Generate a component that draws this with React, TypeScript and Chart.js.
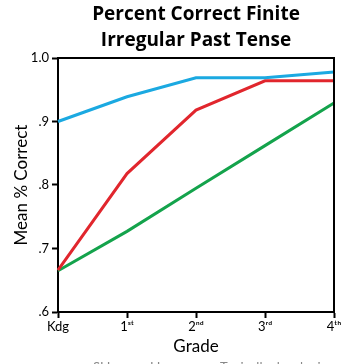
import React, { useEffect, useRef } from "react";
import { Chart, registerables } from "chart.js";

Chart.register(...registerables);

const grades = ["Kdg", "1ˢᵗ", "2ⁿᵈ", "3ʳᵈ", "4ᵗʰ"];
const blueSeries = [0.9, 0.939, 0.969, 0.969, 0.978];
const redSeries = [0.666, 0.818, 0.918, 0.964, 0.964];
const greenSeries = [0.665, 0.727, 0.795, 0.862, 0.929];
const seriesNames = ["Typically developing", "SLI", "LI"];
const titleLines = ["Percent Correct Finite", "Irregular Past Tense"];
const yTitle = "Mean % Correct";
const xTitle = "Grade";
const legendLabels = ["SLI", "LI", "Typically developing"];

const W = 356;
const H = 364;

const textPlugin = {
  id: "texts",
  afterDraw(chart: any) {
    const { ctx, chartArea } = chart;
    const cx = (chartArea.left + chartArea.right) / 2;
    ctx.save();
    ctx.strokeStyle = "#000";
    ctx.lineWidth = 2;
    ctx.beginPath();
    ctx.moveTo(chartArea.left, chartArea.top);
    ctx.lineTo(chartArea.right, chartArea.top);
    ctx.lineTo(chartArea.right, chartArea.bottom);
    ctx.stroke();
    ctx.fillStyle = "#000";
    ctx.textAlign = "center";
    ctx.textBaseline = "middle";
    ctx.font = "bold 19px 'Open Sans', sans-serif";
    ctx.fillText(titleLines[0], cx, 15);
    ctx.fillText(titleLines[1], cx, 41);
    ctx.font = "17px Lato, sans-serif";
    ctx.fillText(xTitle, cx, 347);
    ctx.save();
    ctx.translate(22, (chartArea.top + chartArea.bottom) / 2);
    ctx.rotate(-Math.PI / 2);
    ctx.fillText(yTitle, 0, 0);
    ctx.restore();
    ctx.font = "13px Lato, sans-serif";
    ctx.textAlign = "left";
    ctx.textBaseline = "top";
    ctx.fillStyle = "#888";
    ctx.fillText(legendLabels[0], 93, 361);
    ctx.fillText(legendLabels[1], 150, 361);
    ctx.fillText(legendLabels[2], 220, 361);
    ctx.restore();
  },
};

export default function App() {
  const ref = useRef<HTMLCanvasElement>(null);
  useEffect(() => {
    document.body.style.margin = "0";
    const canvas = ref.current!;
    const chart = new Chart(canvas, {
      type: "line",
      data: {
        labels: grades,
        datasets: [
          { label: seriesNames[0], data: blueSeries, borderColor: "#1BA9E1", borderWidth: 3, pointRadius: 0, fill: false, tension: 0 },
          { label: seriesNames[1], data: redSeries, borderColor: "#E1262D", borderWidth: 3, pointRadius: 0, fill: false, tension: 0 },
          { label: seriesNames[2], data: greenSeries, borderColor: "#14A34C", borderWidth: 3, pointRadius: 0, fill: false, tension: 0 },
        ],
      },
      options: {
        responsive: false,
        animation: false,
        devicePixelRatio: 1,
        layout: { padding: { top: 58, right: 22, left: 0, bottom: 0 } },
        plugins: {
          legend: { display: false },
          title: { display: false },
          tooltip: { enabled: false },
        },
        scales: {
          x: {
            type: "category",
            offset: false,
            afterFit(scale: any) {
              scale.height = 52;
            },
            grid: { drawOnChartArea: false, drawTicks: true, tickLength: 6, tickWidth: 2, tickColor: "#000", color: "#000" },
            border: { display: true, color: "#000", width: 2 },
            ticks: { color: "#000", font: { family: "Lato, sans-serif", size: 13 }, padding: 1, maxRotation: 0, autoSkip: false },
          },
          y: {
            min: 0.6,
            max: 1.0,
            afterFit(scale: any) {
              scale.width = 58;
            },
            grid: { drawOnChartArea: false, drawTicks: true, tickLength: 6, tickWidth: 2, tickColor: "#000", color: "#000" },
            border: { display: true, color: "#000", width: 2 },
            ticks: {
              stepSize: 0.1,
              color: "#000",
              padding: 3,
              font: { family: "Lato, sans-serif", size: 13 },
              callback: (v: any) => {
                const n = Math.round(Number(v) * 10);
                return n === 10 ? "1.0" : "." + n;
              },
            },
          },
        },
      },
      plugins: [textPlugin],
    });
    return () => chart.destroy();
  }, []);
  return (
    <div style={{ position: "absolute", left: 0, top: 0, width: W, height: H, background: "#fff" }}>
      <canvas ref={ref} width={W} height={H} style={{ display: "block", width: W, height: H }} />
    </div>
  );
}
